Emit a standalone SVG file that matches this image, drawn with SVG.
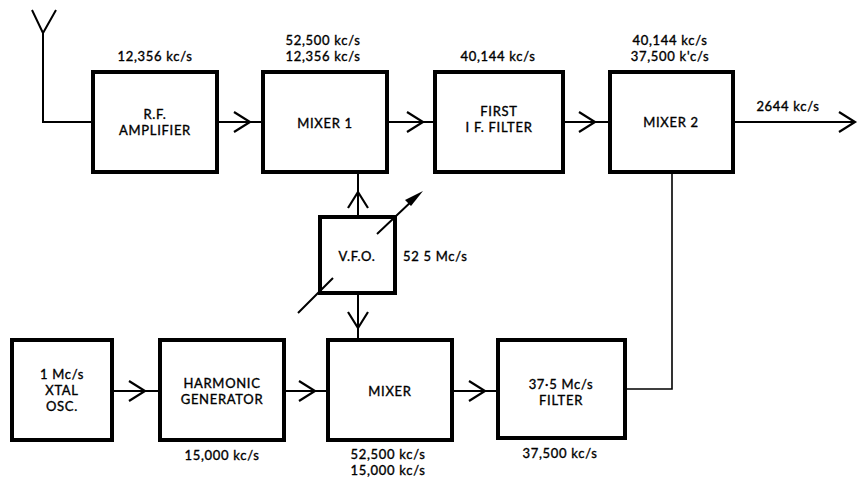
<svg xmlns="http://www.w3.org/2000/svg" xmlns:xlink="http://www.w3.org/1999/xlink" width="858" height="479" viewBox="0 0 858 479">
<style>
.box{fill:#fff;stroke:#000;stroke-width:4}
.t{font-family:Lato,"Open Sans","DejaVu Sans",sans-serif;font-size:13px;letter-spacing:0.7px;fill:#000;stroke:#000;stroke-width:0.35;text-anchor:middle}
.ln{fill:none;stroke:#000;stroke-width:2}
.ch{fill:none;stroke:#000;stroke-width:2.2;stroke-linejoin:miter}
</style>
<defs>
<path id="chev" class="ch" d="M-16,-10 L0,0 L-16,10"/>
</defs>
<rect width="858" height="479" fill="#fff"/>
<g id="connectors">
<path class="ln" d="M32,10 L43,33 L56,10 M43,33 L43,122 L93,122"/>
<line class="ln" x1="217" y1="122" x2="263" y2="122"/>
<use xlink:href="#chev" transform="translate(250,122)"/>
<line class="ln" x1="387" y1="122" x2="435" y2="122"/>
<use xlink:href="#chev" transform="translate(423,122)"/>
<line class="ln" x1="563" y1="122" x2="610" y2="122"/>
<use xlink:href="#chev" transform="translate(595,122)"/>
<line class="ln" x1="733" y1="122" x2="855" y2="122"/>
<use xlink:href="#chev" transform="translate(855,122)"/>
<path fill="none" stroke="#000" stroke-width="1.6" d="M672,172 L672,389 L625,389"/>
<line class="ln" x1="358" y1="217" x2="358" y2="172"/>
<use xlink:href="#chev" transform="translate(358,192) rotate(-90)"/>
<line class="ln" x1="358" y1="293" x2="358" y2="340"/>
<use xlink:href="#chev" transform="translate(358,328) rotate(90)"/>
<line class="ln" x1="112" y1="391" x2="160" y2="391"/>
<use xlink:href="#chev" transform="translate(145,391)"/>
<line class="ln" x1="284" y1="391" x2="328" y2="391"/>
<use xlink:href="#chev" transform="translate(315,391)"/>
<line class="ln" x1="452" y1="391" x2="498" y2="391"/>
<use xlink:href="#chev" transform="translate(485,391)"/>
</g>
<g id="rf"><rect class="box" x="93" y="72" width="124" height="100"/>
<text class="t" x="155" y="119">R.F.</text><text class="t" x="155" y="135">AMPLIFIER</text>
<text class="t" x="155" y="61">12,356 kc/s</text></g>
<g id="mixer1"><rect class="box" x="263" y="72" width="124" height="100"/>
<text class="t" x="325" y="128">MIXER 1</text>
<text class="t" x="323" y="45">52,500 kc/s</text><text class="t" x="323" y="61">12,356 kc/s</text></g>
<g id="firstif"><rect class="box" x="435" y="72" width="128" height="100"/>
<text class="t" x="499" y="116">FIRST</text><text class="t" x="499" y="132">I F. FILTER</text>
<text class="t" x="498" y="61">40,144 kc/s</text></g>
<g id="mixer2"><rect class="box" x="610" y="72" width="123" height="100"/>
<text class="t" x="671" y="127">MIXER 2</text>
<text class="t" x="670" y="45">40,144 kc/s</text><text class="t" x="670" y="61">37,500 k'c/s</text>
<text class="t" x="788" y="111">2644 kc/s</text></g>
<g id="vfo"><rect class="box" x="320" y="217" width="75" height="76"/>
<text class="t" x="357" y="261">V.F.O.</text>
<text class="t" x="403" y="261" style="text-anchor:start">52 5 Mc/s</text>
<path class="ln" d="M298,313 L333,278 M377,234 L414,199"/>
<path d="M423,191 L405,200 L411,206 Z" fill="#000"/></g>
<g id="xtal"><rect class="box" x="12" y="340" width="100" height="100"/>
<text class="t" x="62" y="379">1 Mc/s</text><text class="t" x="62" y="395">XTAL</text><text class="t" x="62" y="411">OSC.</text></g>
<g id="harmonic"><rect class="box" x="160" y="340" width="124" height="100"/>
<text class="t" x="222" y="388">HARMONIC</text><text class="t" x="222" y="404">GENERATOR</text>
<text class="t" x="222" y="460">15,000 kc/s</text></g>
<g id="mixer"><rect class="box" x="328" y="340" width="124" height="100"/>
<text class="t" x="390" y="396">MIXER</text>
<text class="t" x="388" y="459">52,500 kc/s</text><text class="t" x="388" y="475">15,000 kc/s</text></g>
<g id="filter375"><rect class="box" x="498" y="340" width="127" height="98"/>
<text class="t" x="561" y="389">37·5 Mc/s</text><text class="t" x="561" y="405">FILTER</text>
<text class="t" x="560" y="458">37,500 kc/s</text></g>
</svg>
